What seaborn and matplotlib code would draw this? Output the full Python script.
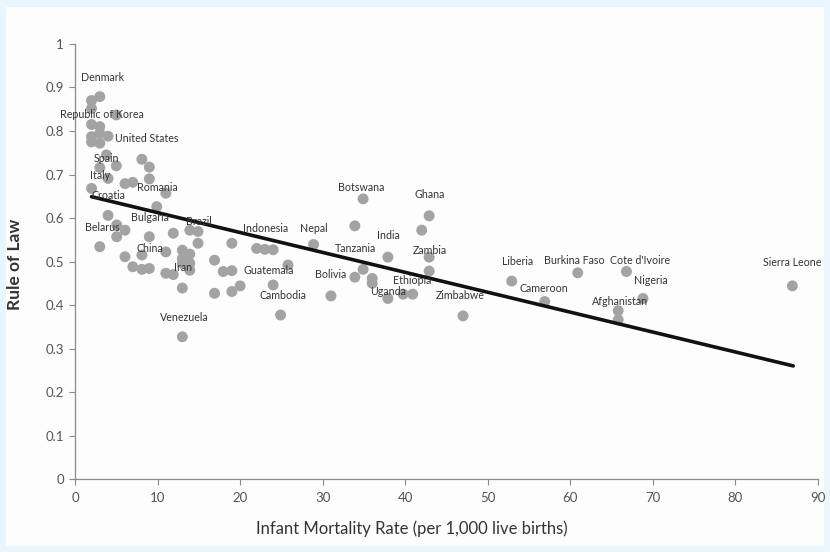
import numpy as np
import pandas as pd
import seaborn as sns
import matplotlib
matplotlib.use("Agg")
import matplotlib.pyplot as plt
from matplotlib.patches import Rectangle

# infant mortality (per 1,000 live births) vs rule of law index
infant_mortality = [2.0, 3.0, 2.0, 2.0, 3.0, 5.0, 2.0, 3.0, 4.0, 2.0, 3.0, 3.8, 3.0, 5.0,
                    8.1, 9.0, 9.0, 4.0, 2.0, 6.05, 7.0, 11.0, 9.9, 4.0, 5.05, 6.05, 5.05,
                    3.0, 9.0, 11.9, 13.9, 14.9, 14.9, 19.0, 22.0, 23.0, 24.0, 6.05, 8.1,
                    11.0, 13.0, 13.0, 13.9, 13.9, 7.0, 8.1, 9.0, 11.0, 11.9, 13.0, 13.9,
                    16.9, 17.95, 19.0, 20.0, 19.0, 16.9, 13.0, 24.0, 13.0, 24.9, 34.9,
                    42.9, 42.0, 33.9, 28.9, 25.8, 31.0, 33.9, 34.9, 36.0, 36.0, 37.9,
                    37.9, 39.75, 40.9, 42.9, 42.9, 47.0, 52.9, 60.9, 56.9, 66.8, 68.8,
                    65.8, 65.8, 86.9]
rule_of_law = [0.870, 0.879, 0.852, 0.815, 0.810, 0.837, 0.787, 0.795, 0.788, 0.775, 0.772,
               0.745, 0.716, 0.720, 0.735, 0.717, 0.690, 0.691, 0.668, 0.679, 0.682, 0.657,
               0.626, 0.606, 0.584, 0.572, 0.557, 0.534, 0.557, 0.565, 0.572, 0.569, 0.542,
               0.542, 0.530, 0.528, 0.527, 0.511, 0.515, 0.522, 0.526, 0.507, 0.517, 0.496,
               0.488, 0.482, 0.484, 0.473, 0.470, 0.496, 0.480, 0.503, 0.477, 0.479, 0.444,
               0.431, 0.427, 0.439, 0.446, 0.327, 0.377, 0.644, 0.605, 0.572, 0.582, 0.539,
               0.492, 0.421, 0.464, 0.482, 0.461, 0.450, 0.510, 0.415, 0.425, 0.425, 0.510,
               0.478, 0.375, 0.455, 0.474, 0.408, 0.477, 0.415, 0.387, 0.366, 0.444]

# trend line end points
trend_x = [2, 87]
trend_y = [0.649, 0.26]

# country labels and where they sit
countries = ["Denmark", "Republic of Korea", "United States", "Spain", "Italy", "Croatia",
             "Romania", "Belarus", "Bulgaria", "Brazil", "China", "Iran", "Venezuela",
             "Indonesia", "Guatemala", "Cambodia", "Nepal", "Bolivia", "Botswana",
             "Tanzania", "India", "Ghana", "Zambia", "Ethiopia", "Uganda", "Zimbabwe",
             "Liberia", "Burkina Faso", "Cameroon", "Cote d'Ivoire", "Nigeria",
             "Afghanistan", "Sierra Leone"]
label_x = [3.3, 3.3, 8.7, 3.75, 3.0, 4.0, 10.0, 3.3, 9.1, 15.0, 9.1, 13.1, 13.2, 23.1,
           23.5, 25.2, 28.9, 31.0, 34.7, 34.0, 37.9, 43.0, 43.0, 40.9, 37.9, 46.7, 53.6,
           60.5, 56.8, 68.5, 69.7, 66.0, 86.9]
label_y = [0.924, 0.839, 0.782, 0.736, 0.697, 0.651, 0.671, 0.579, 0.602, 0.591, 0.529,
           0.487, 0.372, 0.575, 0.480, 0.423, 0.577, 0.469, 0.671, 0.529, 0.559, 0.653,
           0.526, 0.457, 0.432, 0.421, 0.501, 0.503, 0.437, 0.503, 0.457, 0.407, 0.497]

df = pd.DataFrame({"imr": infant_mortality, "rol": rule_of_law})

sns.set_style("white")
plt.rcParams["font.family"] = ["Lato", "DejaVu Sans"]

fig = plt.figure(figsize=(8.3, 5.52), dpi=100)
fig.patch.set_facecolor("#eaf6fd")
fig.patches.append(Rectangle((0.007, 0.01), 0.986, 0.978, transform=fig.transFigure,
                             facecolor="#fdfdfd", edgecolor="none", zorder=-10))
ax = fig.add_axes([0.0904, 0.1322, 0.8951, 0.7881])
ax.set_facecolor("none")

sns.scatterplot(data=df, x="imr", y="rol", ax=ax, color="#a3a3a3", s=62,
                edgecolor="none", zorder=3)
sns.lineplot(x=trend_x, y=trend_y, ax=ax, color="#111111", linewidth=2.6, zorder=4)

for name, lx, ly in zip(countries, label_x, label_y):
    ax.text(lx, ly, name, fontsize=7.7, color="#333333", ha="center", va="center",
            zorder=5)

ax.set_xlim(0, 90)
ax.set_ylim(0, 1)
ax.set_xticks(np.arange(0, 91, 10))
ax.set_yticks(np.arange(0, 1.01, 0.1))
ax.set_yticklabels(["0", "0.1", "0.2", "0.3", "0.4", "0.5", "0.6", "0.7", "0.8", "0.9", "1"])
sns.despine(ax=ax)
for s in ["left", "bottom"]:
    ax.spines[s].set_color("#8a8a8a")
    ax.spines[s].set_linewidth(0.9)
ax.tick_params(axis="both", direction="out", length=4, width=0.8, color="#8a8a8a",
               labelsize=9.5, labelcolor="#555555", pad=4, left=True, bottom=True)
ax.tick_params(axis="x", pad=5)

ax.set_xlabel("Infant Mortality Rate (per 1,000 live births)", fontsize=12,
              color="#333333")
ax.xaxis.set_label_coords(0.4536, -0.095)
ax.set_ylabel("Rule of Law", fontsize=12.5, fontweight="bold", color="#333333")
ax.yaxis.set_label_coords(-0.070, 0.494)

fig.savefig("out.png", dpi=100, facecolor=fig.get_facecolor())
